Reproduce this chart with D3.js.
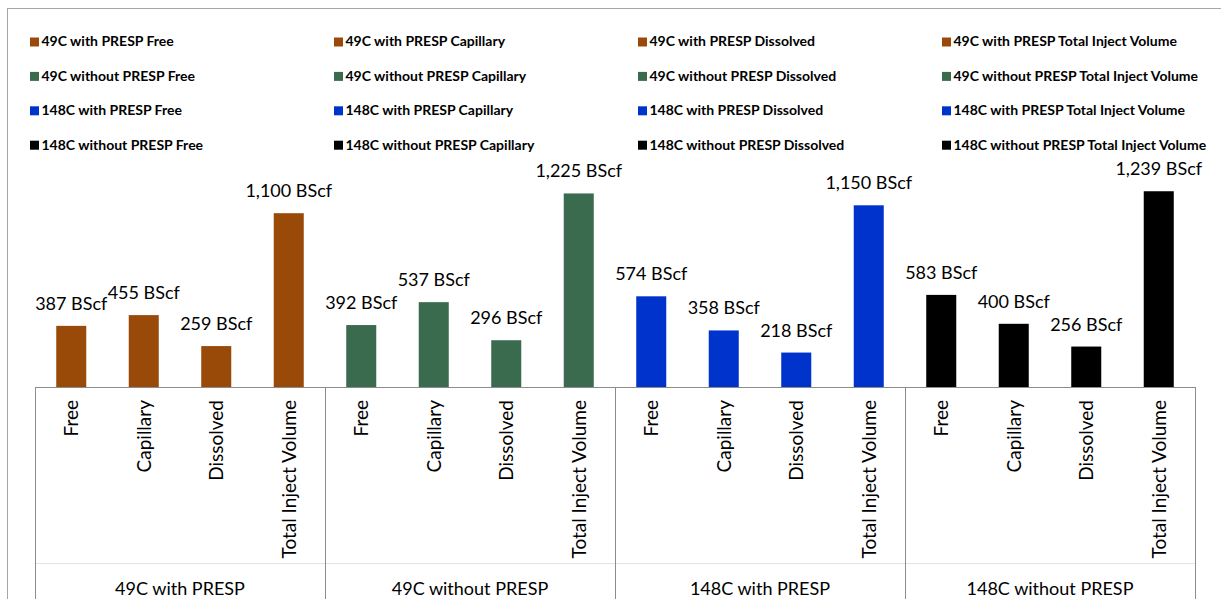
<!DOCTYPE html>
<html>
<head>
<meta charset="utf-8">
<script src="https://cdn.jsdelivr.net/npm/d3@7"></script>
<style>
  html, body { margin: 0; padding: 0; background: #fff; }
  svg { display: block; font-family: Lato, "Open Sans", sans-serif; }
</style>
</head>
<body>
<svg id="chart" width="1221" height="599"></svg>
<script>
// Scenario groups and trapping categories
const groups = ["49C with PRESP", "49C without PRESP", "148C with PRESP", "148C without PRESP"];
const categories = ["Free", "Capillary", "Dissolved", "Total Inject Volume"];

// Volumes in BScf, one array per scenario (Free, Capillary, Dissolved, Total Inject Volume)
const values49With = [387, 455, 259, 1100];
const values49Without = [392, 537, 296, 1225];
const values148With = [574, 358, 218, 1150];
const values148Without = [583, 400, 256, 1239];

const groupColors = ["#994a09", "#3a6b4e", "#0033cc", "#000000"];
const valueUnit = " BScf";

const seriesValues = [values49With, values49Without, values148With, values148Without];

// Flatten into one row per bar
const rows = [];
groups.forEach((g, gi) => {
  categories.forEach((c, ci) => {
    rows.push({ key: g + "|" + c, group: g, gi, category: c, value: seriesValues[gi][ci] });
  });
});

const svg = d3.select("#chart");

// Outer chart frame
svg.append("rect")
  .attr("x", 7.5).attr("y", 8.5)
  .attr("width", 1240).attr("height", 620)
  .attr("fill", "none").attr("stroke", "#a6a6a6").attr("stroke-width", 1);

const plotLeft = 35, plotRight = 1195, baseY = 387;

const x = d3.scaleBand()
  .domain(rows.map(d => d.key))
  .range([plotLeft, plotRight])
  .paddingInner(0.586)
  .paddingOuter(0.293);

const xGroup = d3.scaleBand()
  .domain(groups)
  .range([plotLeft, plotRight])
  .padding(0);

const y = d3.scaleLinear()
  .domain([0, 1400])
  .range([baseY, baseY - 1400 * 0.158]);

// Legend: four columns, row-major by scenario
const legendItems = [];
groups.forEach((g, gi) => categories.forEach(c => legendItems.push({ label: g + " " + c, color: groupColors[gi] })));

const legend = svg.append("g").attr("class", "legend");
const legendEntry = legend.selectAll("g")
  .data(legendItems)
  .join("g")
  .attr("transform", (d, i) => `translate(${30 + (i % 4) * 304},${37.5 + Math.floor(i / 4) * 34.4})`);
legendEntry.append("rect")
  .attr("width", 9).attr("height", 9)
  .attr("fill", d => d.color);
legendEntry.append("text")
  .attr("x", 11.5).attr("y", 8.8)
  .attr("font-size", 14).attr("font-weight", 700)
  .attr("fill", "#000")
  .text(d => d.label);

// Bars
svg.append("g")
  .selectAll("rect")
  .data(rows)
  .join("rect")
  .attr("x", d => x(d.key))
  .attr("width", x.bandwidth())
  .attr("y", d => y(d.value))
  .attr("height", d => y(0) - y(d.value))
  .attr("fill", d => groupColors[d.gi]);

// Value labels
svg.append("g")
  .selectAll("text")
  .data(rows)
  .join("text")
  .attr("x", d => x(d.key) + x.bandwidth() / 2)
  .attr("y", d => y(d.value) - 16)
  .attr("text-anchor", "middle")
  .attr("font-size", 18)
  .attr("fill", "#000")
  .text(d => d3.format(",")(d.value) + valueUnit);

// Inner category axis
const innerAxis = d3.axisBottom(x)
  .tickSize(0)
  .tickFormat(k => k.split("|")[1]);
const innerG = svg.append("g")
  .attr("transform", `translate(0,${baseY})`)
  .call(innerAxis);
innerG.select(".domain").remove();
innerG.selectAll(".tick text")
  .attr("font-family", "Lato, 'Open Sans', sans-serif")
  .attr("font-size", 19)
  .attr("fill", "#000")
  .attr("transform", "rotate(-90)")
  .attr("text-anchor", "end")
  .attr("x", -13)
  .attr("y", 0)
  .attr("dy", "0.36em");

// Axis line and group boxes
const lineColor = "#8c8c8c";
svg.append("line")
  .attr("x1", plotLeft).attr("x2", plotRight)
  .attr("y1", baseY + 0.5).attr("y2", baseY + 0.5)
  .attr("stroke", lineColor);
svg.append("line")
  .attr("x1", plotLeft).attr("x2", plotRight)
  .attr("y1", 563.5).attr("y2", 563.5)
  .attr("stroke", "#e2e2e2");
const boundaries = groups.map(g => xGroup(g)).concat([plotRight]);
svg.append("g")
  .selectAll("line")
  .data(boundaries)
  .join("line")
  .attr("x1", d => Math.round(d) + 0.5).attr("x2", d => Math.round(d) + 0.5)
  .attr("y1", baseY).attr("y2", 599)
  .attr("stroke", lineColor);

// Outer group labels
svg.append("g")
  .selectAll("text")
  .data(groups)
  .join("text")
  .attr("x", d => xGroup(d) + xGroup.bandwidth() / 2)
  .attr("y", 595)
  .attr("text-anchor", "middle")
  .attr("font-size", 18)
  .attr("fill", "#000")
  .text(d => d);
</script>
</body>
</html>
